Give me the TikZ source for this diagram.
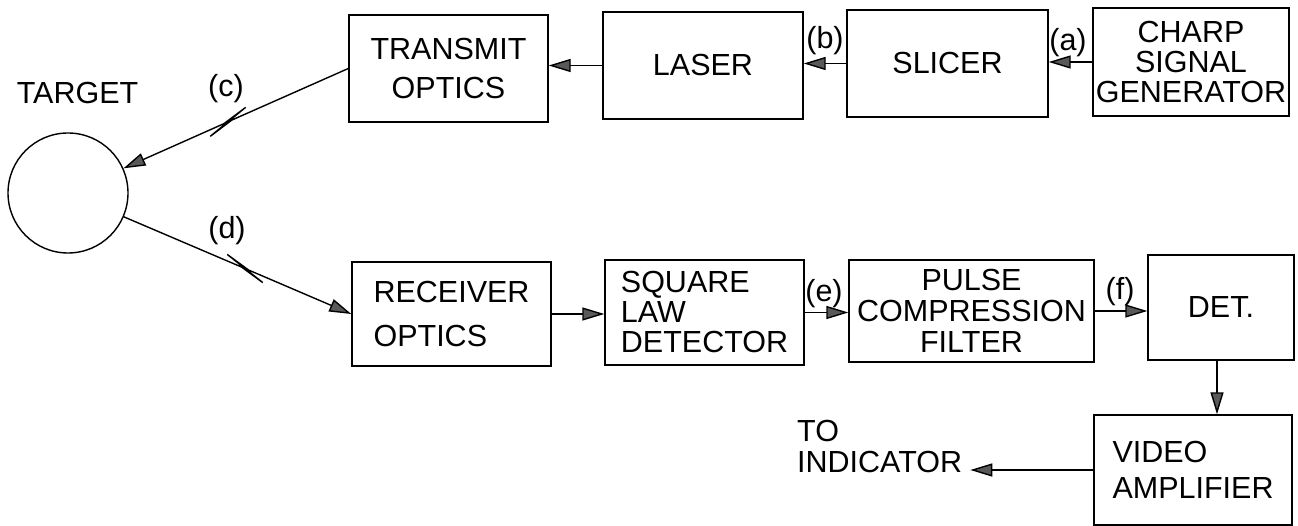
\documentclass[tikz,border=0pt]{standalone}
\usepackage{fontspec}
\setmainfont{Liberation Sans}
\usetikzlibrary{arrows.meta}
\begin{document}
\begin{tikzpicture}[x=1pt,y=-1pt,
  box/.style={draw, line width=1.4pt, inner sep=0pt},
  txt/.style={inner sep=0pt, font=\fontsize{30.5}{31}\selectfont},
  arr/.style={line width=1.4pt, -{Triangle[length=22pt,width=13pt,fill=black!65]}}]
\useasboundingbox (0,0) rectangle (1298,526);
% top row
\node[box, minimum width=199pt, minimum height=107pt, align=center, font=\fontsize{30.5}{39}\selectfont] (tx) at (448.5,68.5) {TRANSMIT\\OPTICS};
\node[box, minimum width=200pt, minimum height=107pt, font=\fontsize{30.5}{31}\selectfont] (laser) at (703,65.5) {LASER};
\node[box, minimum width=201pt, minimum height=107pt, font=\fontsize{30.5}{31}\selectfont] (slicer) at (947.5,63.5) {SLICER};
\node[box, minimum width=196pt, minimum height=108pt, align=center, font=\fontsize{30.5}{30}\selectfont] (charp) at (1191,62) {CHARP\\SIGNAL\\GENERATOR};
% target
\node[draw, circle, line width=1.4pt, minimum size=120pt, inner sep=0pt] (tgt) at (68,193) {};
\node[txt, anchor=base] (tname) at (77.5,104) {TARGET};
% bottom row
\node[box, minimum width=199pt, minimum height=104pt, align=left, font=\fontsize{30.5}{44}\selectfont] (rx) at (451.5,314) {RECEIVER\\OPTICS};
\node[box, minimum width=199pt, minimum height=105pt, align=left, font=\fontsize{30.5}{30}\selectfont] (sq) at (704.5,312.5) {SQUARE\\LAW\\DETECTOR};
\node[box, minimum width=245pt, minimum height=102pt, align=center, font=\fontsize{30.5}{31}\selectfont] (pulse) at (971.5,311) {PULSE\\COMPRESSION\\FILTER};
\node[box, minimum width=146pt, minimum height=105pt, font=\fontsize{30.5}{31}\selectfont] (det) at (1221,307.5) {DET.};
\node[box, minimum width=198pt, minimum height=110pt, align=left, font=\fontsize{30.5}{36}\selectfont] (video) at (1193,470) {VIDEO\\AMPLIFIER};
\node[txt, align=left, anchor=west] (ind) at (797,446.5) {TO\\INDICATOR};
% zigzag points
\coordinate (c1) at (224.3,123.4);
\coordinate (c2) at (245.7,107.3);
\coordinate (c3) at (210.3,136.3);
\coordinate (c4) at (231.7,120.2);
\coordinate (d1) at (248.7,270.1);
\coordinate (d2) at (227.2,254.4);
\coordinate (d3) at (262.8,282.6);
\coordinate (d4) at (241.3,266.9);
% connectors
\draw[arr] (charp.west) -- (charp.west -| slicer.east);
\draw[arr] (slicer.west) -- (slicer.west -| laser.east);
\draw[arr] (laser.west) -- (laser.west -| tx.east);
\draw[arr, line join=miter] (tx.west) -- (c1) -- (c2) -- (c3) -- (c4) -- (tgt);
\draw[arr, line join=miter] (tgt) -- (d1) -- (d2) -- (d3) -- (d4) -- (rx.west);
\draw[arr] (rx.east) -- (rx.east -| sq.west);
\draw[arr] (sq.east) -- (sq.east -| pulse.west);
\draw[arr] (pulse.east) -- (pulse.east -| det.west);
\draw[arr] ([xshift=-4pt]det.south) -- ([xshift=-4pt]det.south |- video.north);
\draw[arr, shorten >=8pt] (video.west) -- (video.west -| ind.east);
% labels
\node[txt] (la) at (1068,43) {(a)};
\node[txt] (lb) at (825,41) {(b)};
\node[txt] (lc) at (226,89) {(c)};
\node[txt] (ld) at (227,231) {(d)};
\node[txt] (le) at (824,294) {(e)};
\node[txt] (lf) at (1120,292) {(f)};
\end{tikzpicture}
\end{document}
